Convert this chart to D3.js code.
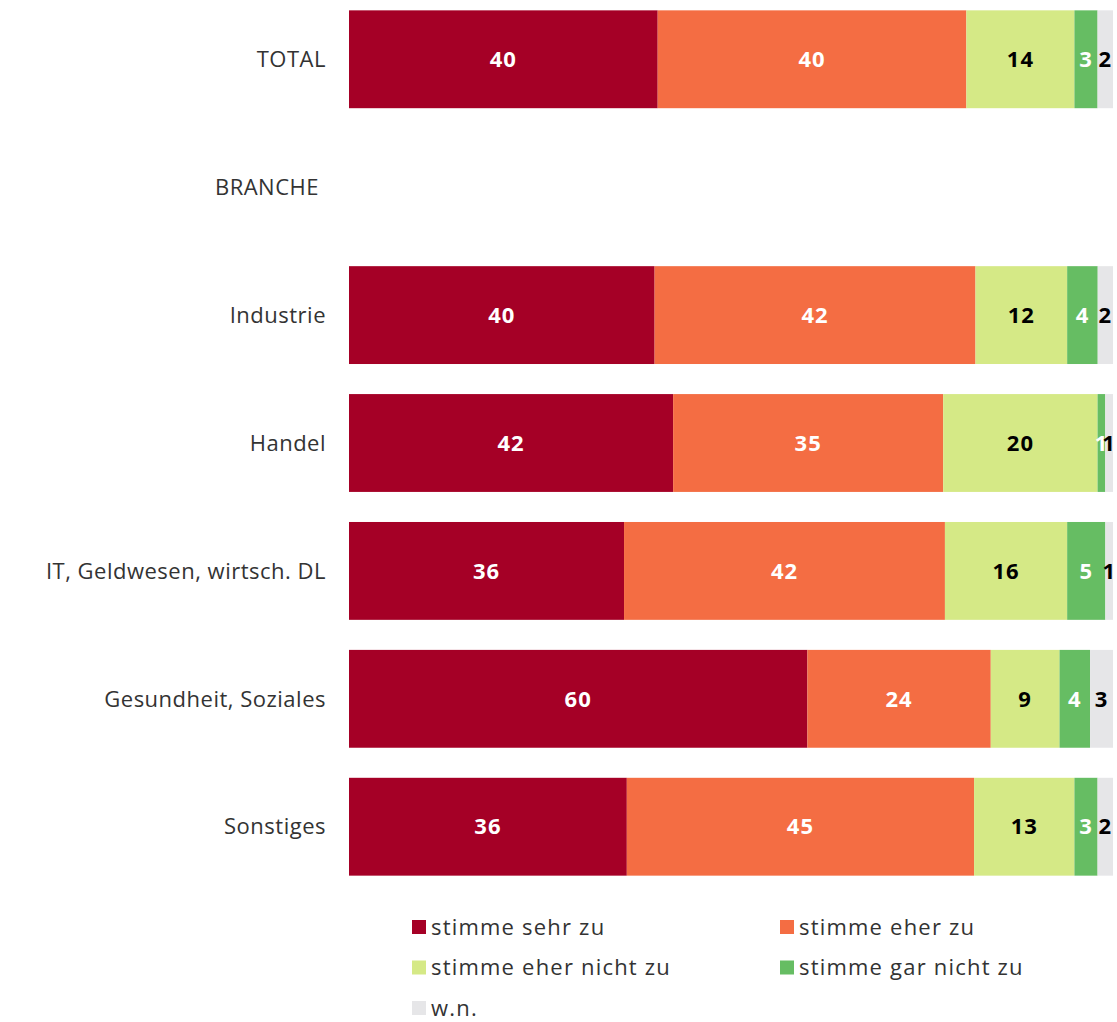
<!DOCTYPE html>
<html>
<head>
<meta charset="utf-8">
<script src="https://cdn.jsdelivr.net/npm/d3@7"></script>
<style>
  body { margin: 0; background: #fff; }
  svg { display: block; font-family: "Open Sans", sans-serif; }
</style>
</head>
<body>
<div id="chart"></div>
<script>
// rows (BRANCHE is only a heading, no bar)
var rows = ['TOTAL', 'BRANCHE', 'Industrie', 'Handel', 'IT, Geldwesen, wirtsch. DL', 'Gesundheit, Soziales', 'Sonstiges'];
var headings = ['BRANCHE'];

var keys = ['stimme sehr zu', 'stimme eher zu', 'stimme eher nicht zu', 'stimme gar nicht zu', 'w.n.'];
var colors = ['#a50026', '#f46d43', '#d5e986', '#66bd63', '#e6e6e8'];
var labelColors = ['#fff', '#fff', '#000', '#fff', '#000'];

var sehrZu = [40, null, 40, 42, 36, 60, 36];
var eherZu = [40, null, 42, 35, 42, 24, 45];
var eherNicht = [14, null, 12, 20, 16, 9, 13];
var garNicht = [3, null, 4, 1, 5, 4, 3];
var wn = [2, null, 2, 1, 1, 3, 2];

var width = 1117, height = 1022;
var margin = { top: 0, left: 349, right: 4 };

var data = rows.map(function (r, i) {
  return {
    row: r,
    'stimme sehr zu': sehrZu[i] || 0,
    'stimme eher zu': eherZu[i] || 0,
    'stimme eher nicht zu': eherNicht[i] || 0,
    'stimme gar nicht zu': garNicht[i] || 0,
    'w.n.': wn[i] || 0
  };
});
var barData = data.filter(function (d) { return headings.indexOf(d.row) < 0; });

var svg = d3.select('#chart')
  .append('svg')
  .attr('width', width)
  .attr('height', height);

var x = d3.scaleLinear()
  .domain([0, 1])
  .range([margin.left, width - margin.right]);

var y = d3.scaleBand()
  .domain(rows)
  .range([-5, 891])
  .paddingInner(0.235)
  .paddingOuter(0.12);

var color = d3.scaleOrdinal().domain(keys).range(colors);

var series = d3.stack()
  .keys(keys)
  .offset(d3.stackOffsetExpand)(barData);

// bars
var layer = svg.selectAll('.layer')
  .data(series)
  .enter()
  .append('g')
  .attr('class', 'layer')
  .attr('fill', function (s) { return color(s.key); });

layer.selectAll('rect')
  .data(function (s) { return s; })
  .enter()
  .append('rect')
  .attr('x', function (d) { return x(d[0]); })
  .attr('y', function (d) { return y(d.data.row); })
  .attr('width', function (d) { return x(d[1]) - x(d[0]); })
  .attr('height', y.bandwidth());

// value labels
series.forEach(function (s, si) {
  svg.append('g')
    .selectAll('text')
    .data(s)
    .enter()
    .append('text')
    .attr('x', function (d) { return (x(d[0]) + x(d[1])) / 2; })
    .attr('y', function (d) { return y(d.data.row) + y.bandwidth() / 2; })
    .attr('dy', '0.35em')
    .attr('text-anchor', 'middle')
    .attr('font-size', 22)
    .attr('font-weight', 'bold')
    .attr('letter-spacing', 1)
    .attr('fill', labelColors[si])
    .text(function (d) { return d.data[s.key]; });
});

// row labels
svg.append('g')
  .selectAll('text')
  .data(rows)
  .enter()
  .append('text')
  .attr('x', function (d) { return headings.indexOf(d) < 0 ? margin.left - 23 : margin.left - 30; })
  .attr('y', function (d) { return y(d) + y.bandwidth() / 2; })
  .attr('dy', '0.35em')
  .attr('text-anchor', 'end')
  .attr('font-size', 22)
  .attr('letter-spacing', 0.5)
  .attr('fill', '#333')
  .text(function (d) { return d; });

// legend
var legend = svg.append('g')
  .selectAll('g')
  .data(keys)
  .enter()
  .append('g')
  .attr('transform', function (d, i) {
    return 'translate(' + (412 + (i % 2) * 368) + ',' + (927 + Math.floor(i / 2) * 40.5) + ')';
  });

legend.append('rect')
  .attr('x', 0)
  .attr('y', -7)
  .attr('width', 14)
  .attr('height', 14)
  .attr('fill', function (d) { return color(d); });

legend.append('text')
  .attr('x', 19)
  .attr('dy', '0.35em')
  .attr('font-size', 22)
  .attr('letter-spacing', 1.2)
  .attr('fill', '#333')
  .text(function (d) { return d; });
</script>
</body>
</html>
